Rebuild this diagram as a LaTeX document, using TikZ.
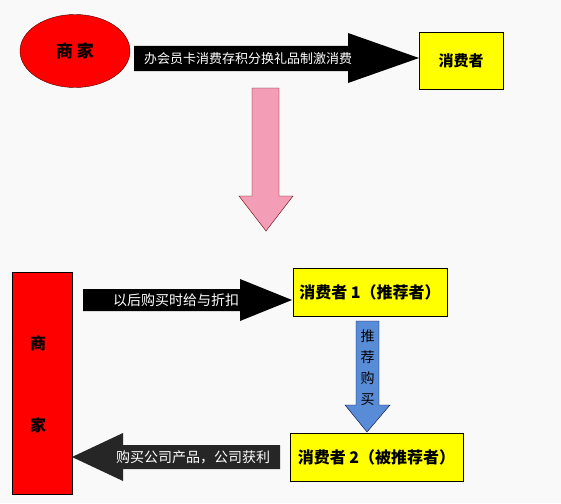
\documentclass[tikz,border=0pt]{standalone}
\usepackage{fontspec}
\newfontfamily\cjk{Noto Sans CJK SC}
\usetikzlibrary{shapes.geometric}
\definecolor{boxyellow}{RGB}{255,255,0}
\definecolor{arrowpink}{RGB}{244,157,183}
\definecolor{arrowblue}{RGB}{88,140,214}
\definecolor{bgcolor}{RGB}{249,249,249}
\tikzset{
  box/.style={draw=black,line width=1pt,fill=boxyellow,font=\cjk\bfseries\fontsize{16}{18}\selectfont},
  arrowtext/.style={text=white,font=\cjk\fontsize{13.5}{16}\selectfont,inner sep=0pt}
}
\begin{document}
\begin{tikzpicture}[x=1pt,y=-1pt]
\useasboundingbox[fill=bgcolor] (0,0) rectangle (561,503);

% top row
\node[ellipse,draw=black!70!red,fill=red,minimum width=110,minimum height=73,
  font=\cjk\bfseries\fontsize{17}{20}\selectfont] (shop) at (75,51) {商 家};
\node[box,minimum width=84,minimum height=56,font=\cjk\bfseries\fontsize{15}{18}\selectfont] (buyer) at (461,61) {消费者};

\fill[black] (134,46) -- (348,46) -- (348,33) -- (419,58) -- (348,83) -- (348,71) -- (134,71) -- cycle;
\node[arrowtext,font=\cjk\fontsize{13}{16}\selectfont] (card) at (248,59) {办会员卡消费存积分换礼品制激消费};

\draw[fill=arrowpink,draw=black!60!red] (252,88) -- (279,88) -- (279,196) -- (293,196) -- (266,231) -- (239,196) -- (252,196) -- cycle;

% bottom part
\node[draw=black,line width=0.8pt,fill=red,minimum width=60,minimum height=222] (shop2) at (42,383) {};
\node[font=\cjk\bfseries\fontsize{16}{18}\selectfont] (shang) at (38,343) {商};
\node[font=\cjk\bfseries\fontsize{16}{18}\selectfont] (jia) at (38,425) {家};

\node[box,minimum width=154,minimum height=48] (first) at (370,292) {消费者 1（推荐者）};
\node[box,minimum width=173,minimum height=48] (second) at (376.5,457) {消费者 2（被推荐者）};

\fill[black] (83,289) -- (240,289) -- (240,279) -- (292,300) -- (240,321) -- (240,311) -- (83,311) -- cycle;
\node[arrowtext,font=\cjk\fontsize{14}{16}\selectfont] (discount) at (176,300) {以后购买时给与折扣};

\draw[fill=arrowblue,draw=black!70!blue] (356,321) -- (379,321) -- (379,405) -- (390,405) -- (367,432) -- (345,405) -- (356,405) -- cycle;
\node[align=center,inner sep=0pt,font=\cjk\fontsize{14}{21}\selectfont] (recommend) at (367.5,368) {推\\荐\\购\\买};

\fill[black!85] (280,445) -- (123,445) -- (123,433) -- (72,457) -- (123,481) -- (123,469) -- (280,469) -- cycle;
\node[arrowtext,font=\cjk\fontsize{14}{16}\selectfont] (profit) at (193,457) {购买公司产品，公司获利};
\end{tikzpicture}
\end{document}
